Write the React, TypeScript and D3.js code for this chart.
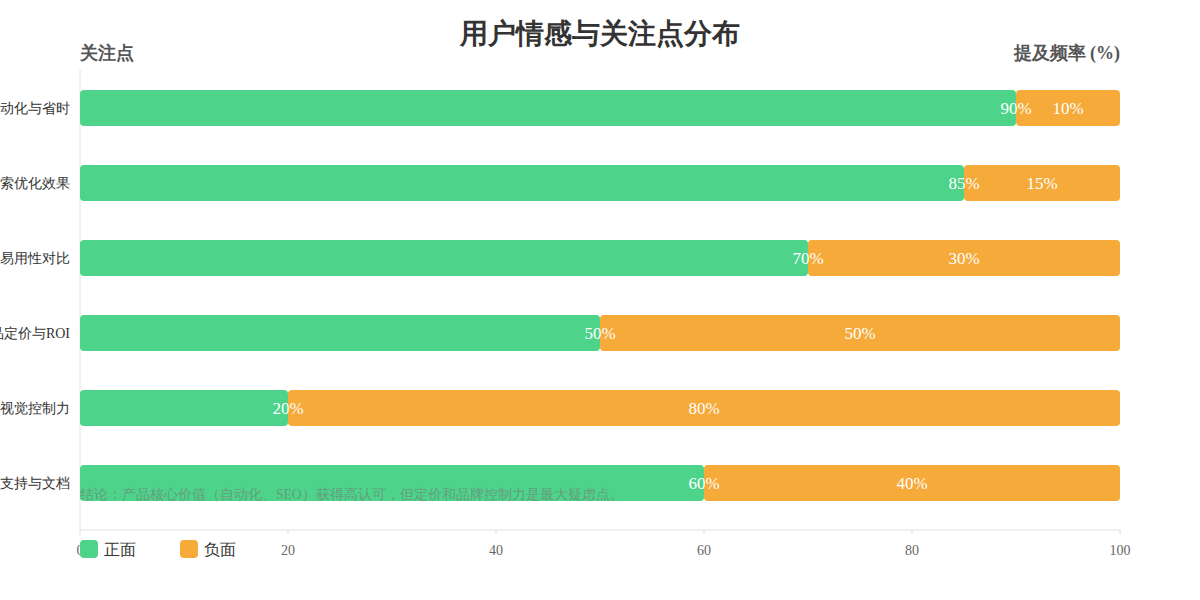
import React from "react";
import { scaleLinear, scaleBand } from "d3";

// 关注点（从上到下）
const topics = ["自动化与省时", "搜索优化效果", "操作易用性对比", "产品定价与ROI", "品牌视觉控制力", "技术支持与文档"];
const positive = [90, 85, 70, 50, 20, 60];
const negative = [10, 15, 30, 50, 80, 40];
const xTicks = [0, 20, 40, 60, 80, 100];
const seriesNames = ["正面", "负面"];
const seriesColors = ["#4DD48A", "#F5AA3A"];
const note = "结论：产品核心价值（自动化、SEO）获得高认可，但定价和品牌控制力是最大疑虑点。";

const W = 1200;
const H = 600;
const left = 80;
const right = 1120;
const top = 70.5;
const bottom = 520.5;
const axisY = 530;
const font = "serif";

export default function App() {
  const x = scaleLinear().domain([0, 100]).range([left, right]);
  const y = scaleBand<string>()
    .domain(topics)
    .range([top, bottom])
    .paddingInner(0.52)
    .paddingOuter(0.26);
  const bw = y.bandwidth();

  return (
    <svg width={W} height={H} style={{ position: "absolute", left: 0, top: 0, fontFamily: font }}>
      <rect width={W} height={H} fill="#fff" />
      <text x={600} y={43} textAnchor="middle" fontSize={28} fontWeight="bold" fill="#333">
        用户情感与关注点分布
      </text>
      <text x={left} y={59} fontSize={18} fontWeight="bold" fill="#555">关注点</text>
      <text x={right} y={59} textAnchor="end" fontSize={18} fontWeight="bold" fill="#555">提及频率 (%)</text>

      {/* 轴线 */}
      <line x1={left} x2={left} y1={70} y2={axisY} stroke="#e0e0e0" />
      <line x1={left} x2={right} y1={axisY} y2={axisY} stroke="#e0e0e0" />
      {xTicks.map((t) => (
        <g key={t}>
          <line x1={x(t)} x2={x(t)} y1={axisY} y2={axisY + 5} stroke="#e0e0e0" />
          <text x={x(t)} y={555} textAnchor="middle" fontSize={14} fill="#666">{t}</text>
        </g>
      ))}

      {topics.map((c, i) => {
        const y0 = y(c)!;
        const cy = y0 + bw / 2;
        const p = positive[i];
        const n = negative[i];
        return (
          <g key={c}>
            <text x={70} y={cy + 5} textAnchor="end" fontSize={14} fill="#333">{c}</text>
            <rect x={x(0)} y={y0} width={x(p) - x(0)} height={bw} rx={4} fill={seriesColors[0]} />
            <rect x={x(p)} y={y0} width={x(p + n) - x(p)} height={bw} rx={4} fill={seriesColors[1]} />
            <text x={x(p)} y={cy + 6} textAnchor="middle" fontSize={17} fill="#fff">{p}%</text>
            <text x={(x(p) + x(p + n)) / 2} y={cy + 6} textAnchor="middle" fontSize={17} fill="#fff">{n}%</text>
          </g>
        );
      })}

      <text x={left} y={499} fontSize={13.6} fill="#777" opacity={0.6}>{note}</text>

      {/* 图例 */}
      {seriesNames.map((s, i) => (
        <g key={s} transform={`translate(${left + i * 100},540)`}>
          <rect width={18} height={18} rx={4} fill={seriesColors[i]} />
          <text x={24} y={15} fontSize={16} fill="#333">{s}</text>
        </g>
      ))}
    </svg>
  );
}
